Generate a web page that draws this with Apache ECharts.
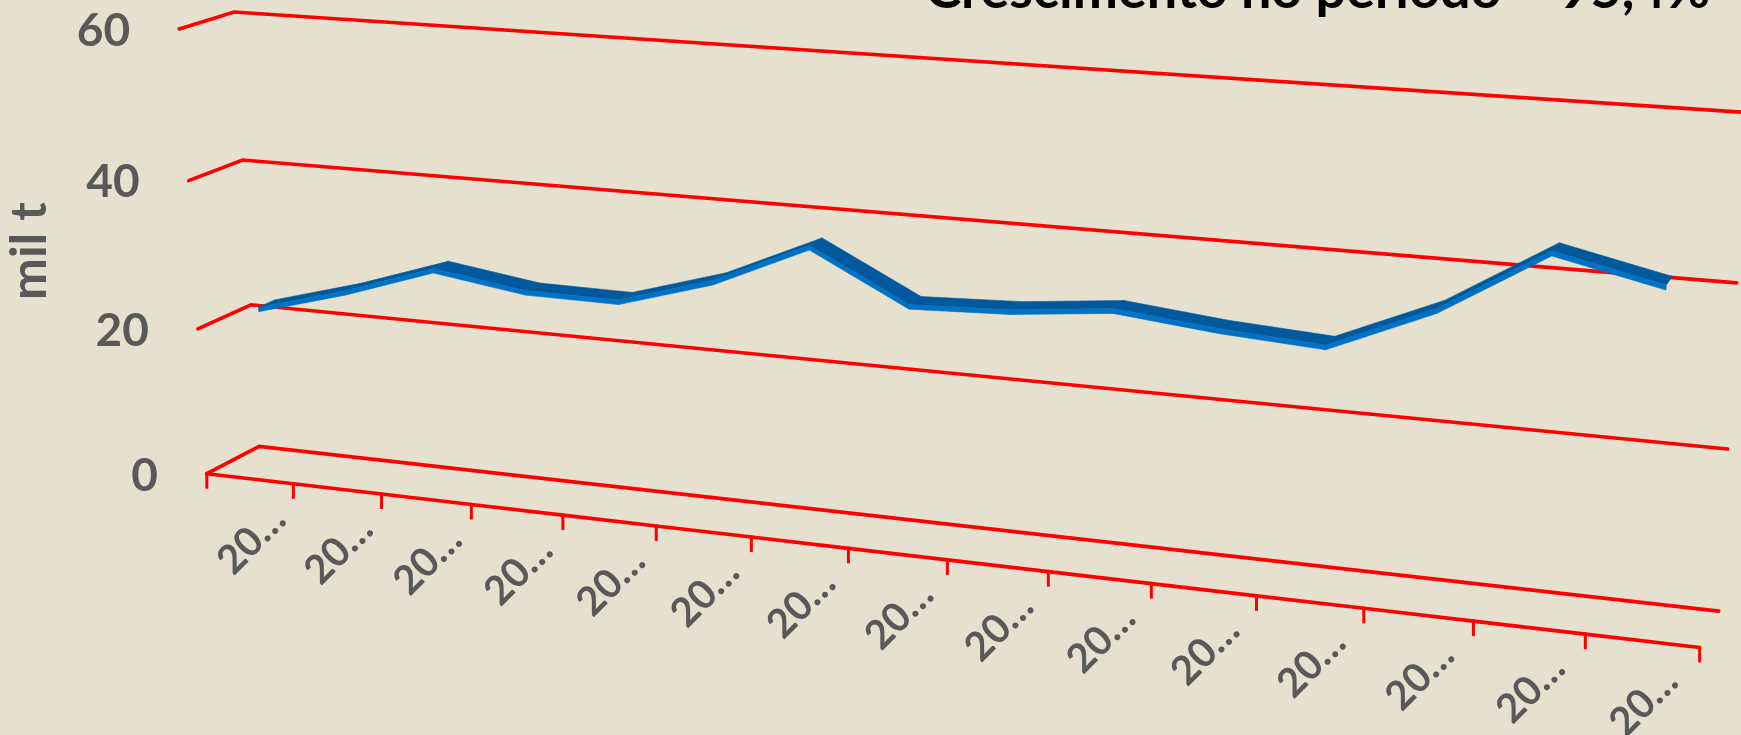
<!DOCTYPE html>
<html><head><meta charset="utf-8">
<script src="https://cdn.jsdelivr.net/npm/echarts@6/dist/echarts.min.js"></script>
<style>html,body{margin:0;padding:0;background:#E6E0CF;}#c{width:1741px;height:735px;}</style>
</head><body><div id="c"></div>
<script>
// ---------- data ----------
const categories = ['20…','20…','20…','20…','20…','20…','20…','20…','20…','20…','20…','20…','20…','20…','20…'];
const values = [22.4, 25.8, 29.9, 28.1, 28.0, 31.7, 37.3, 30.9, 31.4, 32.7, 31.4, 30.6, 36.2, 44.2, 41.3];
const yTicks = [0, 20, 40, 60];
const titleText = 'Crescimento no período = 95,4%';
const yAxisName = 'mil t';

// ---------- view (3D perspective calibration, layout only) ----------
const CAL = [
  [0,0,0,258.5,446.5],[0,1/3,0,251.5,304.3],[0,2/3,0,242.7,160.0],[0,1,0,234.0,12.3],
  [1,0,0,1718.8,610.7],[1,1/3,0,1727.6,449.7],
  [0,1/3,1,197.6,328.6],[0,2/3,1,188.3,180.3],[0,1,1,179.3,29.0]
];
const FRONT_X = [206.5,294,381.8,471.6,563,656.5,751.5,848.2,947.2,1047.8,1151.2,1256.8,1363.2,1473.7,1585,1700.2];
FRONT_X.forEach((x,k)=>CAL.push([k/(FRONT_X.length-1),0,1,x,473.8+(x-206.5)*0.1162]));

function solve(A,b){const n=b.length;for(let c=0;c<n;c++){let p=c;for(let r=c+1;r<n;r++)if(Math.abs(A[r][c])>Math.abs(A[p][c]))p=r;[A[c],A[p]]=[A[p],A[c]];[b[c],b[p]]=[b[p],b[c]];for(let r=c+1;r<n;r++){const f=A[r][c]/A[c][c];for(let k=c;k<n;k++)A[r][k]-=f*A[c][k];b[r]-=f*b[c];}}const x=Array(n).fill(0);for(let r=n-1;r>=0;r--){let s=b[r];for(let k=r+1;k<n;k++)s-=A[r][k]*x[k];x[r]=s/A[r][r];}return x;}
const S=1000;
const Pm=(function(){const n=11;const A=[...Array(n)].map(()=>Array(n).fill(0));const b=Array(n).fill(0);
  CAL.forEach(([u,v,z,X,Y])=>{const x=X/S,y=Y/S;
    const rs=[[[u,v,z,1,0,0,0,0,-x*u,-x*v,-x*z],x],[[0,0,0,0,u,v,z,1,-y*u,-y*v,-y*z],y]];
    rs.forEach(([r,t])=>{for(let i=0;i<n;i++){b[i]+=r[i]*t;for(let j=0;j<n;j++)A[i][j]+=r[i]*r[j];}});});
  return solve(A,b);})();
function P(u,v,z){const w=Pm[8]*u+Pm[9]*v+Pm[10]*z+1;return [S*(Pm[0]*u+Pm[1]*v+Pm[2]*z+Pm[3])/w,S*(Pm[4]*u+Pm[5]*v+Pm[6]*z+Pm[7])/w];}

const Z_FRONT=0.66, Z_BACK=0.35, RIB_H=0.6;
const RED='#FF0000', GRAY='#595959';
const FONT='Lato';

function uv(cs,pt){return [(pt[0]-cs.x)/cs.width,(cs.y+cs.height-pt[1])/cs.height];}

const chart=echarts.init(document.getElementById('c'),null,{renderer:'canvas'});

chart.setOption({
  backgroundColor:'#E6E0CF',
  animation:false,
  grid:{left:100,top:100,width:1400,height:500},
  xAxis:{type:'category',data:categories,show:false},
  yAxis:{type:'value',min:0,max:60,interval:20,show:false},
  graphic:[
    {type:'text',x:1710,y:-9,style:{text:titleText,fill:'#000',font:'bold 54px '+FONT,align:'right',verticalAlign:'middle'}},
    {type:'text',x:30,y:251,rotation:Math.PI/2,style:{text:yAxisName,fill:GRAY,font:'bold 50px '+FONT,align:'center',verticalAlign:'middle'}}
  ],
  series:[
    {type:'custom',name:'grid',clip:false,silent:true,z:1,
      data:yTicks.map(t=>[0,t]),encode:{x:0,y:1},
      renderItem:function(params,api){const cs=params.coordSys;const v=uv(cs,api.coord([0,api.value(1)]))[1];
        return {type:'polyline',shape:{points:[P(0,v,1),P(0,v,0),P(1,v,0)]},style:{stroke:RED,lineWidth:3.6,fill:null,lineCap:'round',lineJoin:'miter'}};}},
    {type:'custom',name:'floor',clip:false,silent:true,z:1,
      data:categories.map((c,i)=>[i,0]),encode:{x:0,y:1},
      renderItem:function(params,api){const cs=params.coordSys;const i=params.dataIndex;
        const half=api.size([1,0])[0]/2;const c=api.coord([i,0]);
        const u0=(c[0]-half-cs.x)/cs.width,u1=(c[0]+half-cs.x)/cs.width;
        const a=P(u0,0,1),b=P(u1,0,1);const kids=[
          {type:'line',shape:{x1:a[0],y1:a[1],x2:b[0],y2:b[1]},style:{stroke:RED,lineWidth:3.6,lineCap:'round'}},
          {type:'line',shape:{x1:a[0],y1:a[1],x2:a[0],y2:a[1]+15},style:{stroke:RED,lineWidth:3}}];
        if(i===categories.length-1)kids.push({type:'line',shape:{x1:b[0],y1:b[1],x2:b[0],y2:b[1]+15},style:{stroke:RED,lineWidth:3}});
        return {type:'group',children:kids};}},
    {type:'custom',name:'xlabels',clip:false,silent:true,z:2,
      data:categories.map((c,i)=>[i,0]),encode:{x:0,y:1},
      renderItem:function(params,api){const cs=params.coordSys;const c=api.coord([params.dataIndex,0]);const u=uv(cs,c)[0];
        const p=P(u,0,1);
        return {type:'text',x:p[0]+29,y:p[1]+34,rotation:Math.PI/4,style:{text:categories[params.dataIndex],fill:GRAY,font:'bold 40px '+FONT,align:'right',verticalAlign:'middle'}};}},
    {type:'custom',name:'ylabels',clip:false,silent:true,z:2,
      data:yTicks.map(t=>[0,t]),encode:{x:0,y:1},
      renderItem:function(params,api){const cs=params.coordSys;const v=uv(cs,api.coord([0,api.value(1)]))[1];const p=P(0,v,1);
        return {type:'text',x:p[0]-49,y:p[1]+2,style:{text:String(api.value(1)),fill:GRAY,font:'bold 46px '+FONT,align:'right',verticalAlign:'middle'}};}},
    {type:'custom',name:'mil t',clip:false,silent:true,z:5,
      data:values.map((v,i)=>[i,v]),encode:{x:0,y:1},
      renderItem:function(params,api){const i=params.dataIndex;if(i>=values.length-1)return null;const cs=params.coordSys;
        const A=uv(cs,api.coord([i,api.value(1)])),B=uv(cs,api.coord([i+1,values[i+1]]));const dv=RIB_H/60;
        const top=[P(A[0],A[1],Z_FRONT),P(B[0],B[1],Z_FRONT),P(B[0],B[1],Z_BACK),P(A[0],A[1],Z_BACK)];
        const front=[P(A[0],A[1],Z_FRONT),P(B[0],B[1],Z_FRONT),P(B[0],B[1]-dv,Z_FRONT),P(A[0],A[1]-dv,Z_FRONT)];
        return {type:'group',children:[
          {type:'polygon',shape:{points:top},style:{fill:'#00599C',stroke:'#00599C',lineWidth:0.6}},
          {type:'polygon',shape:{points:front},style:{fill:'#0071C4',stroke:'#0071C4',lineWidth:0.6}}]};}}
  ]
});
</script></body></html>
